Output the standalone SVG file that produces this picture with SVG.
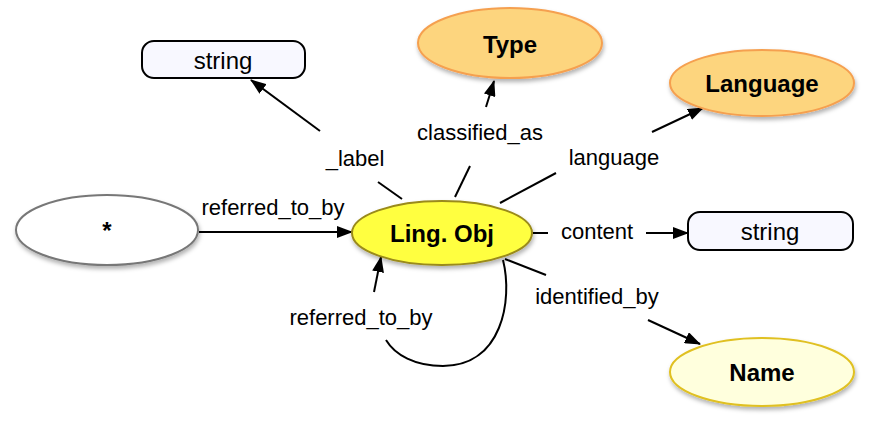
<svg xmlns="http://www.w3.org/2000/svg" width="871" height="421" viewBox="0 0 871 421">
<style>
.lbl{font-family:"Liberation Sans",Arial,sans-serif;font-size:22px;fill:#000;text-anchor:middle;dominant-baseline:central}
.nt{font-family:"Liberation Sans",Arial,sans-serif;font-size:24px;font-weight:bold;fill:#000;text-anchor:middle;dominant-baseline:central}
.st{font-family:"Liberation Sans",Arial,sans-serif;font-size:24px;fill:#000;text-anchor:middle;dominant-baseline:central}
.e{stroke:#000;stroke-width:2;fill:none}
.a{stroke:#000;stroke-width:2;fill:none;marker-end:url(#arr)}
</style>
<defs>
<marker id="arr" viewBox="0 0 16 12" refX="15" refY="6" markerWidth="16" markerHeight="12" markerUnits="userSpaceOnUse" orient="auto">
<path d="M0,0 L16,6 L0,12 z" fill="#000"/>
</marker>
<filter id="sh" x="-20%" y="-20%" width="140%" height="150%">
<feDropShadow dx="1" dy="3" stdDeviation="2" flood-color="#000" flood-opacity="0.3"/>
</filter>
</defs>
<g id="connectors">
<g id="e-label"><line class="e" x1="402" y1="199" x2="378" y2="182"/><line class="a" x1="320" y1="131" x2="251" y2="80"/><text class="lbl" x="355" y="158">_label</text></g>
<g id="e-classified"><line class="e" x1="455" y1="197" x2="470" y2="166"/><line class="a" x1="486" y1="107" x2="494" y2="81"/><text class="lbl" x="480" y="132">classified_as</text></g>
<g id="e-language"><line class="e" x1="500" y1="203" x2="556" y2="173"/><line class="a" x1="652" y1="132" x2="703" y2="108"/><text class="lbl" x="614" y="157">language</text></g>
<g id="e-content"><line class="e" x1="533" y1="233" x2="548" y2="233"/><line class="a" x1="646" y1="233" x2="688" y2="233"/><text class="lbl" x="597" y="231">content</text></g>
<g id="e-identified"><line class="e" x1="505" y1="259" x2="546" y2="275"/><line class="a" x1="648" y1="320" x2="700" y2="344"/><text class="lbl" x="597" y="296">identified_by</text></g>
<g id="e-referred"><line class="a" x1="199" y1="232" x2="352" y2="232"/><text class="lbl" x="273" y="207">referred_to_by</text></g>
<g id="e-self"><path class="e" d="M503,260 C513,300 502,366 443,366 C415,366 395,355 386,340"/><line class="a" x1="374" y1="292" x2="381" y2="257"/><text class="lbl" x="361" y="317">referred_to_by</text></g>
</g>
<g id="n-string1"><rect x="142" y="41" width="163" height="37" rx="12" fill="#F8F8FF" stroke="#000" stroke-width="2"/><text class="st" x="223" y="60">string</text></g>
<g id="n-type"><ellipse cx="510" cy="43" rx="92" ry="35" fill="#FDD57E" stroke="#F5A050" stroke-width="2" filter="url(#sh)"/><text class="nt" x="510" y="44">Type</text></g>
<g id="n-language"><ellipse cx="762" cy="83" rx="92" ry="33" fill="#FDD57E" stroke="#F5A050" stroke-width="2" filter="url(#sh)"/><text class="nt" x="762" y="83">Language</text></g>
<g id="n-lingobj"><ellipse cx="442" cy="233" rx="90" ry="32" fill="#FFFF40" stroke="#9A8A1A" stroke-width="2" filter="url(#sh)"/><text class="nt" x="442" y="233">Ling. Obj</text></g>
<g id="n-star"><ellipse cx="107" cy="230" rx="91" ry="35" fill="#FFFFFF" stroke="#777" stroke-width="2" filter="url(#sh)"/><text class="nt" x="107" y="230">*</text></g>
<g id="n-string2"><rect x="688" y="212" width="165" height="38" rx="12" fill="#F8F8FF" stroke="#000" stroke-width="2"/><text class="st" x="770" y="231">string</text></g>
<g id="n-name"><ellipse cx="762" cy="372" rx="92" ry="34" fill="#FFFFDD" stroke="#E0C020" stroke-width="2" filter="url(#sh)"/><text class="nt" x="762" y="372">Name</text></g>
</svg>
